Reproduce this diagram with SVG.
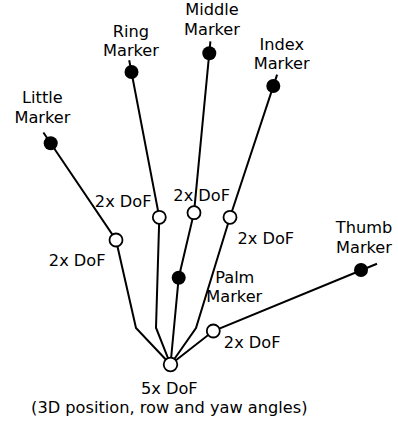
<svg xmlns="http://www.w3.org/2000/svg" width="398" height="423" viewBox="0 0 398 423">
  <style>
    .bone { fill: none; stroke: #000; stroke-width: 2; stroke-linejoin: miter; stroke-linecap: butt; }
    .joint { fill: #fff; stroke: #000; stroke-width: 1.8; }
    .marker { fill: #000; stroke: none; }
    .lbl { font-family: "DejaVu Sans", "Liberation Sans", sans-serif; font-size: 16.2px; fill: #000; text-anchor: middle; }
  </style>
  <rect width="398" height="423" fill="#fff"/>

  <!-- kinematic chains: marker tip -> finger joint -> knuckle bend -> wrist root -->
  <g id="connectors">
    <polyline class="bone" points="43.4,132.5 116,240 136,328 170.5,364.5"/>
    <polyline class="bone" points="129.2,60.2 159.3,217.3 156,327.7 170.5,364.5"/>
    <polyline class="bone" points="210.4,41.4 194,212.7 178.7,277.7 170.5,364.5"/>
    <polyline class="bone" points="277.1,74.6 230,217.3 196,328 170.5,364.5"/>
    <polyline class="bone" points="377,263.8 213.3,331 170.5,364.5"/>
  </g>

  <!-- markers -->
  <g id="little-marker">
    <circle class="marker" cx="50.7" cy="143.3" r="7"/>
    <text class="lbl" x="42.4" y="103.2">Little</text>
    <text class="lbl" x="42.4" y="122.9">Marker</text>
  </g>
  <g id="ring-marker">
    <circle class="marker" cx="131.5" cy="72" r="7"/>
    <text class="lbl" x="131" y="36.5">Ring</text>
    <text class="lbl" x="131" y="56.4">Marker</text>
  </g>
  <g id="middle-marker">
    <circle class="marker" cx="209.3" cy="53.3" r="7"/>
    <text class="lbl" x="212" y="15">Middle</text>
    <text class="lbl" x="212" y="34.6">Marker</text>
  </g>
  <g id="index-marker">
    <circle class="marker" cx="273.3" cy="86" r="7"/>
    <text class="lbl" x="281.7" y="49.8">Index</text>
    <text class="lbl" x="281.7" y="69.3">Marker</text>
  </g>
  <g id="thumb-marker">
    <circle class="marker" cx="361" cy="270" r="7"/>
    <text class="lbl" x="364" y="233.2">Thumb</text>
    <text class="lbl" x="364" y="253">Marker</text>
  </g>
  <g id="palm-marker">
    <circle class="marker" cx="178.7" cy="277.7" r="7"/>
    <text class="lbl" x="234.8" y="282.5">Palm</text>
    <text class="lbl" x="234.3" y="302.3">Marker</text>
  </g>

  <!-- joints -->
  <g id="little-joint">
    <circle class="joint" cx="116" cy="240" r="6.5"/>
    <text class="lbl" x="77.2" y="265.8">2x DoF</text>
  </g>
  <g id="ring-joint">
    <circle class="joint" cx="159.3" cy="217.3" r="6.5"/>
    <text class="lbl" x="123.2" y="206.5">2x DoF</text>
  </g>
  <g id="middle-joint">
    <circle class="joint" cx="194" cy="212.7" r="6.5"/>
    <text class="lbl" x="201.7" y="200.5">2x DoF</text>
  </g>
  <g id="index-joint">
    <circle class="joint" cx="230" cy="217.3" r="6.5"/>
    <text class="lbl" x="265.8" y="244.2">2x DoF</text>
  </g>
  <g id="thumb-joint">
    <circle class="joint" cx="213.3" cy="331" r="6.5"/>
    <text class="lbl" x="252.2" y="348.2">2x DoF</text>
  </g>
  <g id="root-joint">
    <circle class="joint" cx="170.5" cy="364.5" r="6.8"/>
    <text class="lbl" x="169.3" y="394">5x DoF</text>
    <text class="lbl" x="169.3" y="413.3">(3D position, row and yaw angles)</text>
  </g>
</svg>
